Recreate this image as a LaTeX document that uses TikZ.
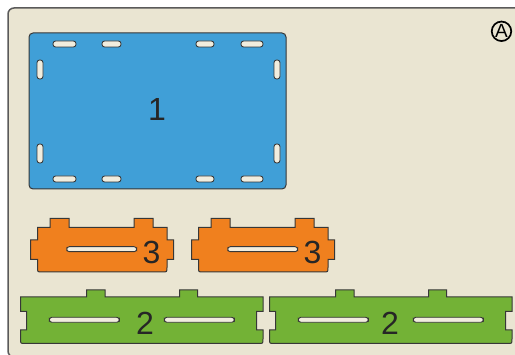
\documentclass[tikz,border=0pt]{standalone}
\usepackage{fontspec}
\setmainfont{Liberation Sans}
\definecolor{panelc}{RGB}{234,229,210}
\definecolor{panelline}{RGB}{90,90,90}
\definecolor{bluec}{RGB}{64,159,215}
\definecolor{orangec}{RGB}{240,128,30}
\definecolor{greenc}{RGB}{115,178,54}
\definecolor{slotc}{RGB}{241,237,222}
\definecolor{edgec}{RGB}{55,55,55}
\definecolor{textc}{RGB}{38,38,38}
\begin{document}
\begin{tikzpicture}[x=1pt,y=-1pt,
  piece/.style={draw=edgec,line width=1pt,line join=miter},
  slot/.style={draw=edgec,fill=slotc,line width=0.9pt,rounded corners=2.6pt},
  num/.style={font=\fontsize{32}{32}\selectfont,text=textc,anchor=base,inner sep=0pt}]
\useasboundingbox (0,0) rectangle (515,355);
% panel
\draw[fill=panelc,draw=panelline,line width=1.5pt,rounded corners=6pt] (8,8) rectangle (540,357);
\node[draw=black,line width=1.7pt,circle,minimum size=19.5pt,inner sep=0pt,font=\fontsize{19}{19}\selectfont] (circA) at (501.5,31.3) {A};
% blue piece 1
\draw[piece,fill=bluec,rounded corners=4pt] (29,33) rectangle (286,189);
\foreach \xa/\xb in {53/76,102/121,196/214,241/263}{
  \draw[slot] (\xa,41) rectangle (\xb,47);
  \draw[slot] (\xa,176) rectangle (\xb,182);
}
\foreach \ya/\yb in {60/79,144/163}{
  \draw[slot] (37,\ya) rectangle (43,\yb);
  \draw[slot] (274,\ya) rectangle (280,\yb);
}
\node[num] (one) at (157,121) {1};
% orange pieces 3
\foreach \dx/\nm in {0/threea,161/threeb}{
\begin{scope}[shift={(\dx,0)}]
\draw[piece,fill=orangec] (37.5,227.5) -- (50,227.5) -- (50,218.5) -- (69,218.5) -- (69,227.5) -- (134,227.5) -- (134,218.5) -- (153,218.5) -- (153,227.5) -- (167,227.5) -- (167,240) -- (173.5,240) -- (173.5,259.5) -- (167,259.5) -- (167,267.5) .. controls (167,272) .. (162.5,272) -- (42,272) .. controls (37.5,272) .. (37.5,267.5) -- (37.5,259.5) -- (30.5,259.5) -- (30.5,240) -- (37.5,240) -- cycle;
\draw[slot] (66.7,246.7) rectangle (136.7,251.7);
\node[num] (\nm) at (151.5,263.5) {3};
\end{scope}
}
% green pieces 2
\foreach \dx/\lx/\nm in {0/145/twoa,249/141/twob}{
\begin{scope}[shift={(\dx,0)}]
\draw[piece,fill=greenc] (20.5,297) -- (86.5,297) -- (86.5,290) -- (105,290) -- (105,297) -- (179.5,297) -- (179.5,290) -- (197.5,290) -- (197.5,297) -- (263,297) -- (263,311.5) -- (256.5,311.5) -- (256.5,330) -- (263,330) -- (263,339) .. controls (263,343.5) .. (258.5,343.5) -- (25,343.5) .. controls (20.5,343.5) .. (20.5,339) -- (20.5,330) -- (26.5,330) -- (26.5,311.5) -- (20.5,311.5) -- cycle;
\draw[slot] (49.3,317.3) rectangle (119.3,322.3);
\draw[slot] (164.3,317.3) rectangle (234.3,322.3);
\node[num] (\nm) at (\lx,335) {2};
\end{scope}
}
\end{tikzpicture}
\end{document}
